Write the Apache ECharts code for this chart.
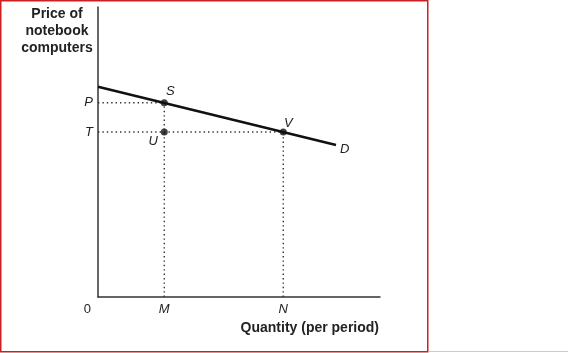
<!DOCTYPE html>
<html>
<head>
<meta charset="utf-8">
<script src="https://cdn.jsdelivr.net/npm/echarts@6/dist/echarts.min.js"></script>
<style>html,body{margin:0;padding:0;background:#fff}#c{width:568px;height:353px}</style>
</head>
<body>
<div id="c"></div>
<script>
// Demand curve D (quantity, price)
const demandX = [0, 84.4];
const demandY = [72.5, 52.4];
// Labeled points
const pointNames = ['S', 'U', 'V'];
const pointX = [23.5, 23.5, 65.7];
const pointY = [67.0, 56.9, 56.9];
// Axis tick labels
const yTickNames = ['0', 'T', 'P'];
const yTickValues = [0, 56.9, 67.0];
const xTickNames = ['M', 'N'];
const xTickValues = [23.5, 65.7];

const chart = echarts.init(document.getElementById('c'));
const font = '"Liberation Sans", Arial, sans-serif';
const dotted = { color: '#333', width: 1.4, type: [1.4, 3] };
const lab = { fontStyle: 'italic', fontSize: 13, color: '#222', fontFamily: font, opacity: 1 };

function guide(pts) {
  return { type: 'line', data: pts, symbol: 'none', silent: true, lineStyle: dotted, z: 1 };
}

const S = [pointX[0], pointY[0]], U = [pointX[1], pointY[1]], V = [pointX[2], pointY[2]];
const labelPos = { S: ['top', [6, 2]], U: ['left', [0, 9]], V: ['top', [5, 4]] };

chart.setOption({
  animation: false,
  grid: { left: 98, top: 7, width: 282, height: 290 },
  xAxis: {
    type: 'value', min: 0, max: 100,
    splitLine: { show: false },
    axisLine: { lineStyle: { color: '#333', width: 1.5 } },
    axisTick: { show: false },
    axisLabel: {
      customValues: xTickValues, margin: 6,
      formatter: v => '{i|' + xTickNames[xTickValues.indexOf(v)] + '}',
      rich: { i: lab }
    }
  },
  yAxis: {
    type: 'value', min: 0, max: 100,
    splitLine: { show: false },
    axisLine: { show: true, lineStyle: { color: '#333', width: 1.5 } },
    axisTick: { show: false },
    axisLabel: {
      customValues: yTickValues, margin: 5,
      formatter: v => { const n = yTickNames[yTickValues.indexOf(v)]; return n === '0' ? '{n|0}' : '{i|' + n + '}'; },
      rich: {
        i: lab,
        n: { fontSize: 13, color: '#222', fontFamily: font, padding: [24, 2, 0, 0] }
      }
    }
  },
  series: [
    guide([[0, pointY[0]], S]),
    guide([[0, pointY[1]], V]),
    guide([[pointX[0], 0], S]),
    guide([[pointX[2], 0], V]),
    {
      type: 'line', data: demandX.map((x, i) => [x, demandY[i]]),
      symbol: 'none', lineStyle: { color: '#111', width: 2.5 }, z: 3,
      endLabel: Object.assign({ show: true, formatter: 'D', offset: [-4, 4] }, lab)
    },
    {
      type: 'scatter', symbolSize: 7, itemStyle: { color: '#111' }, z: 4,
      data: pointNames.map((n, i) => ({
        value: [pointX[i], pointY[i]], name: n,
        label: Object.assign({
          show: true, formatter: n,
          position: labelPos[n][0], offset: labelPos[n][1], distance: 3
        }, lab)
      }))
    }
  ],
  graphic: [
    { type: 'rect', shape: { x: 0.75, y: 0.75, width: 427, height: 351 }, style: { fill: 'none', stroke: '#cc2020', lineWidth: 1.5 }, silent: true },
    { type: 'line', shape: { x1: 429, y1: 351.5, x2: 568, y2: 351.5 }, style: { stroke: '#cccccc', lineWidth: 1 }, silent: true },
    { type: 'text', x: 57, y: 5.5, style: { text: 'Price of\nnotebook\ncomputers', align: 'center', verticalAlign: 'top', font: 'bold 14px ' + font, lineHeight: 17, fill: '#222' } },
    { type: 'text', x: 379, y: 328, style: { text: 'Quantity (per period)', align: 'right', verticalAlign: 'middle', font: 'bold 14px ' + font, fill: '#222' } }
  ]
});
</script>
</body>
</html>
